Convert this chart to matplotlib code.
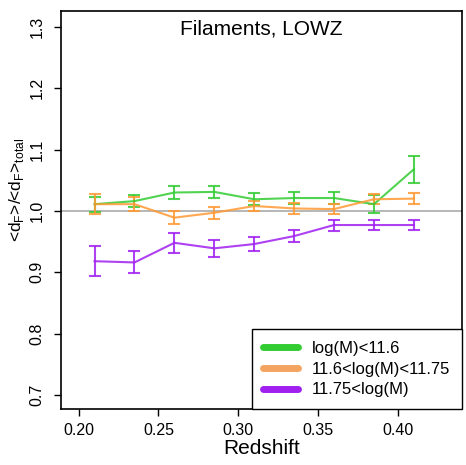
import numpy as np
import matplotlib
matplotlib.use('Agg')
import matplotlib.pyplot as plt
from matplotlib.lines import Line2D

plt.rcParams['font.family'] = ['Liberation Sans', 'DejaVu Sans']
plt.rcParams['mathtext.fontset'] = 'custom'
plt.rcParams['mathtext.rm'] = 'Liberation Sans'

# Data
redshift = [0.21, 0.235, 0.26, 0.285, 0.31, 0.335, 0.36, 0.385, 0.41]

low = [1.011, 1.016, 1.030, 1.031, 1.019, 1.021, 1.021, 1.011, 1.068]
low_err = [0.012, 0.010, 0.010, 0.010, 0.010, 0.010, 0.010, 0.015, 0.022]

mid = [1.011, 1.011, 0.989, 0.997, 1.008, 1.004, 1.003, 1.019, 1.020]
mid_err = [0.016, 0.011, 0.011, 0.010, 0.008, 0.009, 0.008, 0.008, 0.009]

high = [0.918, 0.916, 0.948, 0.939, 0.946, 0.959, 0.977, 0.977, 0.977]
high_err = [0.024, 0.018, 0.016, 0.0135, 0.012, 0.010, 0.009, 0.008, 0.008]

labels = ['log(M)<11.6', '11.6<log(M)<11.75', '11.75<log(M)']
line_colors = ['#33CC33', '#FF9933', '#A020F0']
legend_colors = ['#33CC33', '#F4A460', '#A020F0']

fig = plt.figure(figsize=(4.66, 4.65), dpi=100)
ax = fig.add_axes([0.131, 0.1204, 0.860, 0.856])

ax.axhline(1.0, color='#aaaaaa', lw=1.2, zorder=1)

for vals, errs, c in zip([low, mid, high], [low_err, mid_err, high_err], line_colors):
    ax.errorbar(redshift, vals, yerr=errs, color=c, lw=1.5, capsize=4,
                capthick=1.5, alpha=0.85, zorder=2)

ax.set_xlim(0.189, 0.44)
ax.set_ylim(0.677, 1.326)
ax.set_xticks([0.20, 0.25, 0.30, 0.35, 0.40])
ax.set_xticklabels(['0.20', '0.25', '0.30', '0.35', '0.40'])
ax.set_yticks([0.7, 0.8, 0.9, 1.0, 1.1, 1.2, 1.3])
ax.set_yticklabels(['0.7', '0.8', '0.9', '1.0', '1.1', '1.2', '1.3'],
                   rotation=90, va='center')
ax.tick_params(direction='out', length=5, width=1, labelsize=11.5, colors='black')
ax.tick_params(axis='x', pad=5)
ax.tick_params(axis='y', pad=7)
for s in ax.spines.values():
    s.set_linewidth(1.2)

ax.set_xlabel('Redshift', fontsize=15, labelpad=1)
ax.set_ylabel(r'<d$_\mathrm{F}$>/<d$_\mathrm{F}$>$_\mathrm{total}$', fontsize=12.5)
ax.yaxis.label.set_va('center')
ax.yaxis.set_label_coords(-0.112, 0.55)
ax.text(0.5, 0.978, 'Filaments, LOWZ', transform=ax.transAxes, ha='center',
        va='top', fontsize=15)

handles = [Line2D([], [], color=c, lw=5, solid_capstyle='round') for c in legend_colors]
leg = ax.legend(handles, labels, loc='lower right', fontsize=12, frameon=True,
                fancybox=False, borderaxespad=0, handlelength=2.1, handletextpad=0.8,
                edgecolor='black', framealpha=1, borderpad=0.7, labelspacing=0.35)
leg.get_frame().set_linewidth(1.0)

fig.savefig('out.png', dpi=100)
